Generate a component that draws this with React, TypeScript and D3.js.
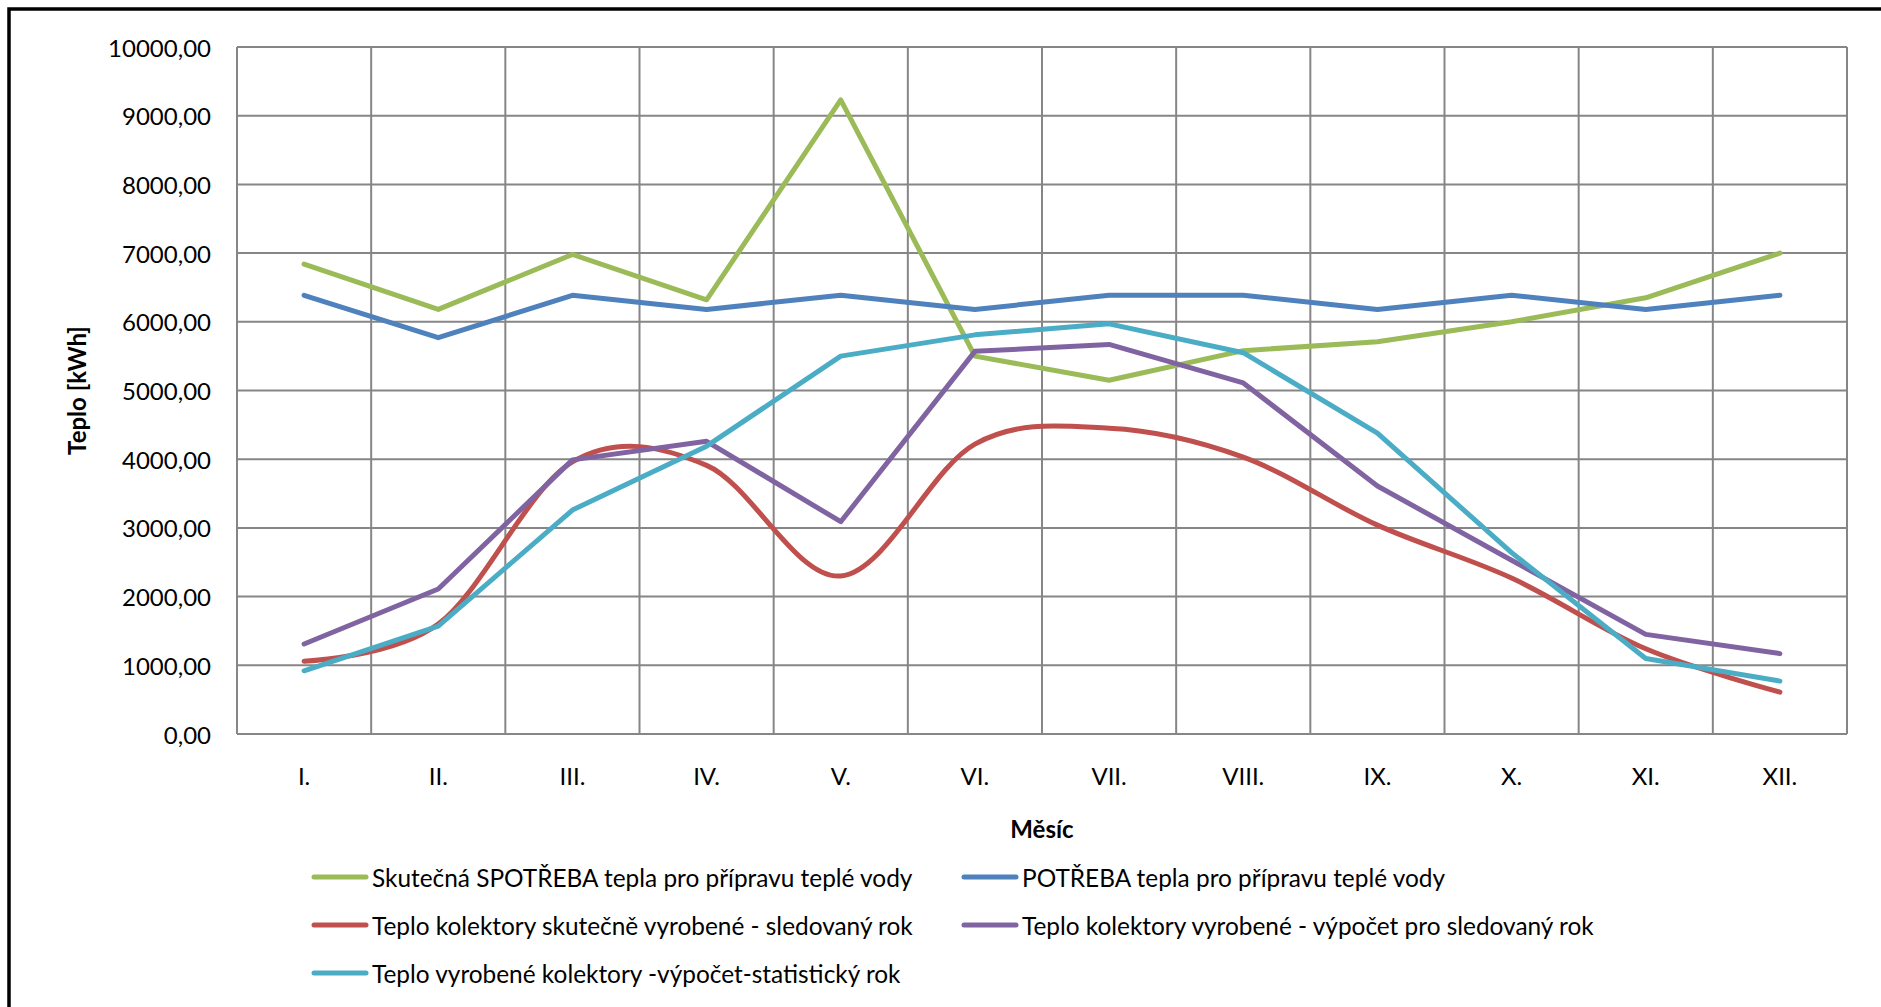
import React from "react";
import * as d3 from "d3";

const months = ["I.", "II.", "III.", "IV.", "V.", "VI.", "VII.", "VIII.", "IX.", "X.", "XI.", "XII."];

const skutecnaSpotreba = [6840, 6180, 6980, 6320, 9230, 5500, 5150, 5580, 5710, 6000, 6350, 7000];
const potreba = [6386, 5768, 6386, 6180, 6386, 6180, 6386, 6386, 6180, 6386, 6180, 6386];
const kolektorySkutecne = [1060, 1600, 3960, 3910, 2300, 4220, 4450, 4030, 3040, 2270, 1240, 610];
const kolektoryVypocet = [1310, 2110, 3990, 4260, 3090, 5570, 5670, 5110, 3610, 2530, 1450, 1170];
const kolektoryStatisticky = [920, 1570, 3260, 4190, 5500, 5810, 5970, 5550, 4380, 2640, 1100, 770];

const yTicks = [0, 1000, 2000, 3000, 4000, 5000, 6000, 7000, 8000, 9000, 10000];

const seriesNames = [
  "Skutečná SPOTŘEBA tepla pro přípravu teplé vody",
  "POTŘEBA tepla pro přípravu teplé vody",
  "Teplo kolektory skutečně vyrobené - sledovaný rok",
  "Teplo kolektory vyrobené - výpočet pro sledovaný rok",
  "Teplo vyrobené kolektory -výpočet-statistický rok",
];
const seriesColors = ["#9BBB59", "#4F81BD", "#C0504D", "#8064A2", "#4BACC6"];
const seriesSmooth = [false, false, true, false, false];
const seriesValues = [skutecnaSpotreba, potreba, kolektorySkutecne, kolektoryVypocet, kolektoryStatisticky];

const W = 1881;
const H = 1007;
const L = 237, R = 1847, T = 47, B = 734;
const FONT = "Lato, 'Open Sans', sans-serif";

export default function App() {
  const x = d3.scaleBand<string>().domain(months).range([L, R]).padding(0);
  const y = d3.scaleLinear().domain([0, 10000]).range([B, T]);
  const cx = (m: string) => (x(m) as number) + x.bandwidth() / 2;
  const fmt = (v: number) => v.toFixed(2).replace(".", ",");

  const vLines = months.map((m) => x(m) as number).concat([R]);

  const legendCols = [314, 964];
  const legendRows = [877, 925, 973];

  return (
    <svg
      width={W}
      height={H}
      style={{ position: "absolute", left: 0, top: 0, display: "block", background: "#fff" }}
    >
      <rect x={0} y={0} width={W} height={H} fill="#fff" />
      <rect x={9} y={9} width={W + 20} height={H + 20} fill="none" stroke="#000" strokeWidth={3.5} />

      {/* grid */}
      <g stroke="#868686" strokeWidth={2} fill="none">
        {yTicks.map((t) => (
          <line key={"h" + t} x1={L} x2={R} y1={y(t)} y2={y(t)} />
        ))}
        {vLines.map((vx, i) => (
          <line key={"v" + i} x1={vx} x2={vx} y1={T} y2={B} />
        ))}
      </g>

      {/* y tick labels */}
      <g fontFamily={FONT} fontSize={24} fill="#000" textAnchor="end">
        {yTicks.map((t) => (
          <text key={t} x={211} y={y(t)} dominantBaseline="central">
            {fmt(t)}
          </text>
        ))}
      </g>

      {/* x tick labels */}
      <g fontFamily={FONT} fontSize={24} fill="#000" textAnchor="middle">
        {months.map((m) => (
          <text key={m} x={cx(m)} y={775} dominantBaseline="central">
            {m}
          </text>
        ))}
      </g>

      {/* axis titles */}
      <text
        x={1042}
        y={828}
        fontFamily={FONT}
        fontSize={24}
        fontWeight="bold"
        textAnchor="middle"
        dominantBaseline="central"
      >
        Měsíc
      </text>
      <text
        transform={`translate(76,${(T + B) / 2}) rotate(-90)`}
        fontFamily={FONT}
        fontSize={24}
        fontWeight="bold"
        textAnchor="middle"
        dominantBaseline="central"
      >
        Teplo [kWh]
      </text>

      {/* series */}
      {seriesValues.map((vals, si) => {
        const line = d3
          .line<number>()
          .x((_, i) => cx(months[i]))
          .y((v) => y(v))
          .curve(seriesSmooth[si] ? d3.curveCardinal.tension(0) : d3.curveLinear);
        return (
          <path
            key={si}
            d={line(vals) || ""}
            fill="none"
            stroke={seriesColors[si]}
            strokeWidth={5}
            strokeLinejoin="round"
            strokeLinecap="round"
          />
        );
      })}

      {/* legend */}
      <g fontFamily={FONT} fontSize={24.4} fill="#000">
        {seriesNames.map((name, i) => {
          const col = i % 2;
          const row = Math.floor(i / 2);
          const lx = legendCols[col];
          const ly = legendRows[row];
          return (
            <g key={name}>
              <line x1={lx} x2={lx + 52} y1={ly} y2={ly} stroke={seriesColors[i]} strokeWidth={5} strokeLinecap="round" />
              <text x={lx + 58} y={ly} dominantBaseline="central">
                {name}
              </text>
            </g>
          );
        })}
      </g>
    </svg>
  );
}
